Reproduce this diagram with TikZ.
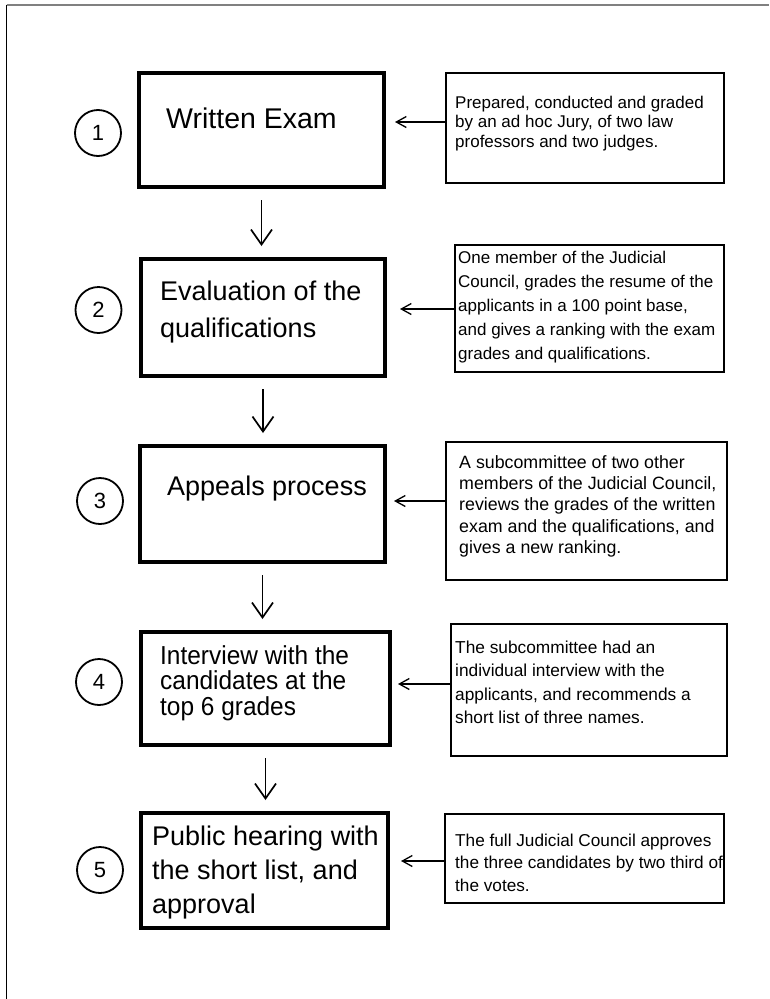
\documentclass[tikz,border=0pt]{standalone}
\usepackage{fontspec}
\setmainfont{Liberation Sans}
\newfontfamily\narrowsans{Liberation Sans}[FakeStretch=0.94]
\usetikzlibrary{arrows.meta}
\begin{document}
\begin{tikzpicture}[x=1pt,y=-1pt,
  mainbox/.style={draw, line width=4pt, inner sep=0pt, outer sep=0pt},
  sidebox/.style={draw, line width=1.3pt, inner sep=0pt, outer sep=0pt},
  numcirc/.style={draw, circle, line width=1.8pt, minimum size=46pt, inner sep=0pt,
    font=\fontsize{22}{22}\selectfont},
  maintext/.style={inner sep=0pt, align=left, font=\fontsize{27}{36}\selectfont},
  sidetext/.style={inner sep=0pt, align=left, anchor=north west},
  downarrow/.style={line width=1.7pt, -{Straight Barb[length=15pt,width=21pt,line width=1.7pt]},
    shorten <=13pt, shorten >=13pt},
  sidearrow/.style={line width=1.3pt, -{Straight Barb[length=10pt,width=11pt,line width=1.3pt]}}
]
\useasboundingbox (0,0) rectangle (769,999);
% frame
\coordinate (ftl) at (6.5,4.5);
\coordinate (ftr) at (769,4.5);
\coordinate (fbl) at (6.5,999);
\draw[line width=2pt, gray] (ftl) -- (ftr);
\draw[line width=1.5pt] (ftl) -- (fbl);

% main boxes
\node[mainbox, minimum width=245pt, minimum height=114pt] (b1) at (261.5,130) {};
\node[mainbox, minimum width=244pt, minimum height=117pt] (b2) at (263,317.5) {};
\node[mainbox, minimum width=245pt, minimum height=116pt] (b3) at (262.5,504) {};
\node[mainbox, minimum width=249pt, minimum height=113pt] (b4) at (265.5,688.5) {};
\node[mainbox, minimum width=247pt, minimum height=115pt] (b5) at (264.5,870.5) {};

% main texts
\node[maintext, anchor=base west, font=\fontsize{28.5}{34}\selectfont] (t1) at (166,128) {Written Exam};
\node[maintext, anchor=north west, font=\fontsize{27}{37}\selectfont] (t2) at (160,280.6) {Evaluation of the\\qualifications};
\node[maintext, anchor=base west] (t3) at (167,495) {Appeals process};
\node[maintext, anchor=north west, font=\narrowsans\fontsize{26}{25.5}\selectfont] (t4) at (160,645.3) {Interview with the\\candidates at the\\top 6 grades};
\node[maintext, anchor=north west, font=\fontsize{27}{34}\selectfont] (t5) at (152,825.6) {Public hearing with\\the short list, and\\approval};

% number circles
\node[numcirc] (c1) at (98,133) {1};
\node[numcirc] (c2) at (98.5,310) {2};
\node[numcirc] (c3) at (100,501) {3};
\node[numcirc] (c4) at (99,682) {4};
\node[numcirc] (c5) at (100,870) {5};

% side boxes
\node[sidebox, minimum width=278pt, minimum height=110pt] (s1) at (585,128) {};
\node[sidebox, minimum width=269pt, minimum height=127pt] (s2) at (589.5,308.5) {};
\node[sidebox, minimum width=281pt, minimum height=138pt] (s3) at (586.5,511) {};
\node[sidebox, minimum width=276pt, minimum height=132pt] (s4) at (589,690) {};
\node[sidebox, minimum width=279pt, minimum height=89pt] (s5) at (584.5,858.5) {};

% side texts
\node[sidetext, font=\fontsize{17}{19.5}\selectfont] (u1) at (455,95.8)
  {Prepared, conducted and graded\\by an ad hoc Jury, of two law\\professors and two judges.};
\node[sidetext, font=\fontsize{17}{24}\selectfont] (u2) at (458,250.8)
  {One member of the Judicial\\Council, grades the resume of the\\applicants in a 100 point base,\\and gives a ranking with the exam\\grades and qualifications.};
\node[sidetext, font=\fontsize{17.8}{21.3}\selectfont] (u3) at (459,455)
  {A subcommittee of two other\\members of the Judicial Council,\\reviews the grades of the written\\exam and the qualifications, and\\gives a new ranking.};
\node[sidetext, font=\fontsize{17.3}{23.5}\selectfont] (u4) at (455,640.5)
  {The subcommittee had an\\individual interview with the\\applicants, and recommends a\\short list of three names.};
\node[sidetext, font=\fontsize{17.2}{22.5}\selectfont] (u5) at (455,833.6)
  {The full Judicial Council approves\\the three candidates by two third of\\the votes.};

% down arrows
\draw[downarrow] (b1.south) -- (b1.south |- b2.north);
\draw[downarrow] (b2.south) -- (b2.south |- b3.north);
\draw[downarrow] (b3.south) -- (b3.south |- b4.north);
\draw[downarrow] (b4.south) -- (b4.south |- b5.north);

% side arrows
\coordinate (e1) at (395,122);
\coordinate (e2) at (400,309);
\coordinate (e3) at (394,501);
\coordinate (e4) at (398,684);
\coordinate (e5) at (401,861);
\draw[sidearrow] (s1.west |- e1) -- (e1);
\draw[sidearrow] (s2.west |- e2) -- (e2);
\draw[sidearrow] (s3.west |- e3) -- (e3);
\draw[sidearrow] (s4.west |- e4) -- (e4);
\draw[sidearrow] (s5.west |- e5) -- (e5);
\end{tikzpicture}
\end{document}
